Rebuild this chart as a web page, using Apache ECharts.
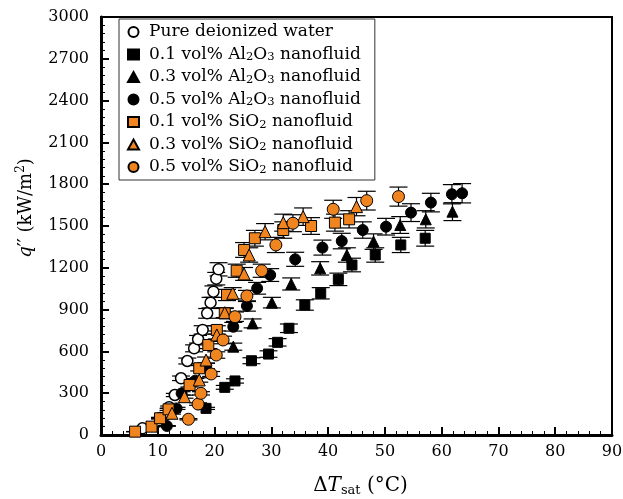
<!DOCTYPE html>
<html><head><meta charset="utf-8">
<script src="https://cdn.jsdelivr.net/npm/echarts@6/dist/echarts.min.js"></script>
<style>html,body{margin:0;padding:0;background:#fff}#c{width:623px;height:499px}</style>
</head><body><div id="c"></div>
<script>
// ---- data (x: ΔT_sat °C, y: q'' kW/m²) ----
const seriesNames = ['Pure deionized water','0.1 vol% Al2O3 nanofluid','0.3 vol% Al2O3 nanofluid','0.5 vol% Al2O3 nanofluid','0.1 vol% SiO2 nanofluid','0.3 vol% SiO2 nanofluid','0.5 vol% SiO2 nanofluid'];
const water = [[7.3,48],[10.4,122],[12.0,200],[13.0,287],[14.1,407],[15.2,531],[16.4,622],[17.1,687],[17.9,754],[18.7,873],[19.3,950],[19.8,1029],[20.3,1122],[20.7,1189]];
const al01 = [[18.5,191],[21.8,342],[23.6,388],[26.5,533],[29.5,581],[31.1,665],[33.1,766],[35.9,933],[38.7,1017],[41.8,1117],[44.2,1220],[48.3,1292],[52.8,1364],[57.1,1412]];
const al03 = [[23.3,634],[26.7,801],[30.1,950],[33.5,1084],[38.6,1196],[43.3,1292],[48.0,1388],[52.7,1507],[57.2,1548],[61.9,1603]];
const al05 = [[11.6,65],[13.3,191],[14.2,299],[16.6,390],[18.5,495],[23.3,777],[25.7,926],[27.5,1053],[29.8,1148],[34.2,1261],[39.0,1345],[42.4,1392],[46.1,1471],[50.2,1495],[54.6,1596],[58.1,1668],[61.8,1728],[63.6,1735]];
const si01 = [[6.0,24],[8.9,60],[10.4,120],[11.9,184],[15.6,359],[17.3,479],[18.9,646],[20.4,754],[21.8,873],[22.2,1005],[23.9,1179],[25.2,1328],[27.1,1412],[32.1,1471],[37.0,1500],[41.2,1524],[43.7,1548]];
const si03 = [[12.5,156],[14.7,275],[17.3,395],[18.5,538],[20.4,718],[21.8,878],[23.2,1017],[25.2,1156],[26.1,1292],[28.9,1459],[32.1,1524],[35.6,1567],[45.0,1639]];
const si05 = [[15.4,113],[17.1,222],[17.6,299],[19.4,438],[20.3,574],[21.5,682],[23.6,849],[25.7,998],[28.3,1179],[30.8,1364],[33.8,1520],[40.9,1620],[46.8,1682],[52.4,1711]];
const errFrac = 0.04; // relative uncertainty of q''
const xTicks = [0,10,20,30,40,50,60,70,80,90];
const yTicks = [0,300,600,900,1200,1500,1800,2100,2400,2700,3000];

const ORANGE = '#F0841E';
const datasets = [water, al01, al03, al05, si01, si03, si05];
const symbols = ['circle','rect','triangle','circle','rect','triangle','circle'];
const fills = ['#ffffff','#000','#000','#000',ORANGE,ORANGE,ORANGE];
const sizes = [11,10,11,11,11,12,12];

const series = [];
datasets.forEach((d, i) => {
  series.push({
    type: 'custom', name: seriesNames[i] + '_err', silent: true, z: 2,
    renderItem: function (params, api) {
      const x = api.value(0), y = api.value(1), e = y * errFrac;
      const top = api.coord([x, y + e]);
      const bot = api.coord([x, y - e]);
      const hw = 9;
      const st = {stroke: '#000', lineWidth: 1.2};
      return {type: 'group', children: [
        {type: 'line', shape: {x1: top[0], y1: top[1], x2: bot[0], y2: bot[1]}, style: st},
        {type: 'line', shape: {x1: top[0]-hw, y1: top[1], x2: top[0]+hw, y2: top[1]}, style: st},
        {type: 'line', shape: {x1: bot[0]-hw, y1: bot[1], x2: bot[0]+hw, y2: bot[1]}, style: st}
      ]};
    },
    data: d
  });
  series.push({
    type: 'scatter', name: seriesNames[i], data: d, z: 3,
    symbol: symbols[i], symbolSize: sizes[i],
    itemStyle: {color: fills[i], borderColor: '#000', borderWidth: i === 0 ? 1.5 : 1, opacity: 1}
  });
});

function legendFmt(n) {
  return n.replace(/Al2O3/, 'Al{s|2}O{s|3}').replace(/SiO2/, 'SiO{s|2}');
}

const chart = echarts.init(document.getElementById('c'));
chart.setOption({
  animation: false,
  grid: {left: 101, top: 17, right: 11, bottom: 64, show: true, borderColor: '#000', borderWidth: 2,
    containLabel: false, outerBoundsMode: 'none'},
  legend: {
    data: seriesNames, orient: 'vertical', left: 119, top: 19,
    backgroundColor: '#fff', borderColor: '#333', borderWidth: 1,
    padding: [4, 14, 4, 8], itemGap: 4.5, itemWidth: 11, itemHeight: 10,
    formatter: legendFmt,
    textStyle: {fontFamily: 'DejaVu Serif', fontSize: 17, color: '#000', lineHeight: 18, padding: [0, 0, 0, 5],
      rich: {s: {fontFamily: 'DejaVu Serif', fontSize: 11.5, verticalAlign: 'bottom', lineHeight: 11, color: '#000'}}}
  },
  xAxis: {
    type: 'value', min: 0, max: 90, interval: 10,
    name: '{n|Δ}{i|T}{s|sat}{n| (°C)}', nameLocation: 'middle', nameGap: 40,
    nameTextStyle: {padding: [0, 0, 0, 8], rich: {n: {fontFamily: 'DejaVu Serif', fontSize: 20, color: '#000', lineHeight: 22},
      i: {fontFamily: 'DejaVu Serif', fontStyle: 'italic', fontSize: 20, color: '#000', lineHeight: 22},
      s: {fontFamily: 'DejaVu Serif', fontSize: 13, color: '#000', verticalAlign: 'bottom', lineHeight: 13}}},
    axisLine: {lineStyle: {color: '#000', width: 3}},
    axisTick: {inside: true, length: 8, lineStyle: {color: '#000', width: 2}},
    minorTick: {show: true, splitNumber: 5, length: 4, lineStyle: {color: '#000', width: 1}},
    splitLine: {show: false},
    axisLabel: {fontFamily: 'DejaVu Serif', fontSize: 16, color: '#000', margin: 9,
      formatter: v => xTicks.includes(v) ? String(v) : ''}
  },
  yAxis: {
    type: 'value', min: 0, max: 3000, interval: 300,
    name: '{i|q}{n|′′ (kW/m}{p|2}{n|)}', nameLocation: 'middle', nameRotate: 90, nameGap: 64,
    nameTextStyle: {padding: [0, 0, 0, 36], rich: {i: {fontFamily: 'DejaVu Serif', fontStyle: 'italic', fontSize: 18, color: '#000', lineHeight: 22},
      n: {fontFamily: 'DejaVu Serif', fontSize: 18, color: '#000', lineHeight: 22},
      p: {fontFamily: 'DejaVu Serif', fontSize: 12, color: '#000', verticalAlign: 'top', lineHeight: 13}}},
    axisLine: {lineStyle: {color: '#000', width: 3}},
    axisTick: {inside: true, length: 8, lineStyle: {color: '#000', width: 2}},
    minorTick: {show: true, splitNumber: 5, length: 4, lineStyle: {color: '#000', width: 1}},
    splitLine: {show: false},
    axisLabel: {fontFamily: 'DejaVu Serif', fontSize: 16, color: '#000', margin: 12,
      formatter: v => yTicks.includes(v) ? String(v) : ''}
  },
  series: series
});
</script></body></html>
